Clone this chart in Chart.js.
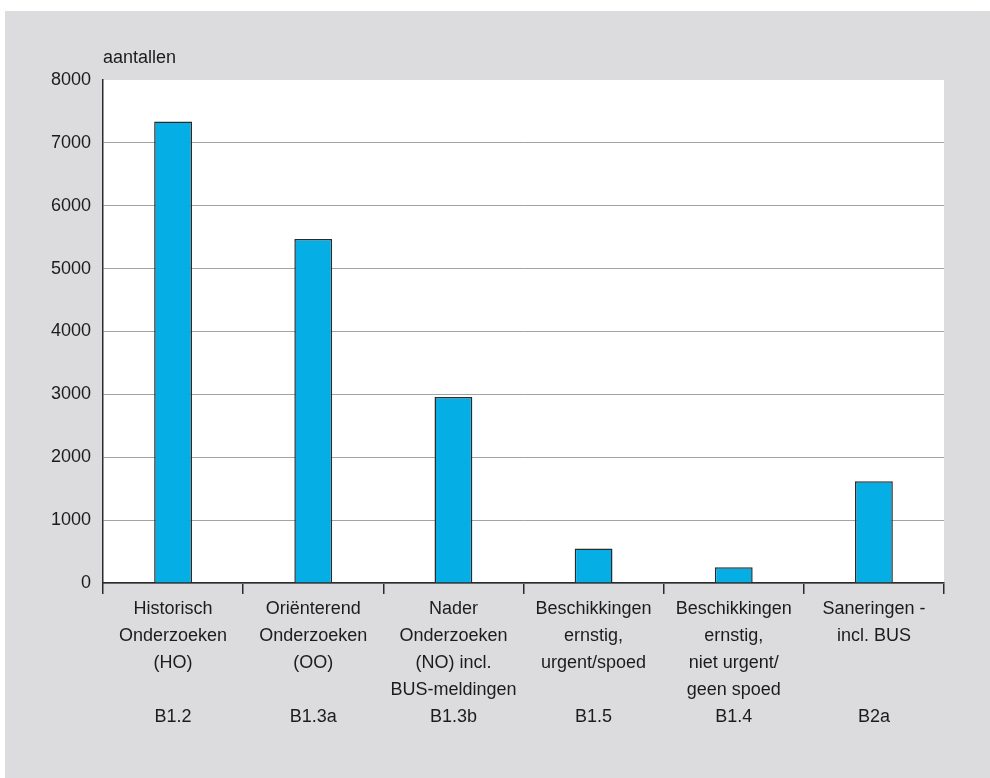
<!DOCTYPE html>
<html>
<head>
<meta charset="utf-8">
<script src="https://cdn.jsdelivr.net/npm/chart.js@4/dist/chart.umd.min.js"></script>
<style>
  html, body { margin: 0; padding: 0; background: #ffffff; }
  #wrap { width: 990px; height: 778px; }
</style>
</head>
<body>
<div id="wrap"><canvas id="bars" width="990" height="778"></canvas></div>
<script>
// category label lines (blank lines keep the codes on one row)
const categoryLines = [
    ['Historisch', 'Onderzoeken', '(HO)', ''],
    ['Oriënterend', 'Onderzoeken', '(OO)', ''],
    ['Nader', 'Onderzoeken', '(NO) incl.', 'BUS-meldingen'],
    ['Beschikkingen', 'ernstig,', 'urgent/spoed', ''],
    ['Beschikkingen', 'ernstig,', 'niet urgent/', 'geen spoed'],
    ['Saneringen -', 'incl. BUS', '', '']
];
const categoryCodes = ['B1.2', 'B1.3a', 'B1.3b', 'B1.5', 'B1.4', 'B2a'];
const aantallen = [7340, 5470, 2960, 550, 250, 1620];
const yTicks = [0, 1000, 2000, 3000, 4000, 5000, 6000, 7000, 8000];
const yTitle = 'aantallen';

const FONT = "'Liberation Sans', Arial, sans-serif";
const TEXT = '#1e1b1c';

const labels = categoryLines.map((lines, i) => lines.concat([categoryCodes[i]]));

// grey panel behind everything, white plot area, and the unit label
const panelPlugin = {
    id: 'panel',
    beforeDraw(chart) {
        const ctx = chart.ctx;
        const a = chart.chartArea;
        ctx.save();
        ctx.fillStyle = '#dcdcde';
        ctx.fillRect(5, 11, 985, 767);
        ctx.fillStyle = '#ffffff';
        ctx.fillRect(a.left, a.top, a.right - a.left, a.bottom - a.top);
        ctx.fillStyle = TEXT;
        ctx.font = '18px ' + FONT;
        ctx.textAlign = 'left';
        ctx.textBaseline = 'middle';
        ctx.fillText(yTitle, a.left, a.top - 22);
        ctx.restore();
    }
};

const ctx = document.getElementById('bars').getContext('2d');
new Chart(ctx, {
    type: 'bar',
    data: {
        labels: labels,
        datasets: [{
            data: aantallen,
            backgroundColor: '#05aee4',
            borderColor: '#2b2b2b',
            borderWidth: 1.5,
            barPercentage: 0.27,
            categoryPercentage: 1
        }]
    },
    options: {
        responsive: false,
        animation: false,
        layout: { padding: { top: 80, right: 46, left: 0, bottom: 0 } },
        plugins: {
            legend: { display: false },
            tooltip: { enabled: false }
        },
        scales: {
            x: {
                afterFit: (scale) => { scale.height = 195; },
                grid: {
                    offset: true,
                    drawOnChartArea: false,
                    drawTicks: true,
                    tickLength: 11,
                    color: '#2b2b2b',
                    lineWidth: 1.5
                },
                border: { color: '#2b2b2b', width: 1.5 },
                ticks: {
                    padding: 2,
                    maxRotation: 0,
                    autoSkip: false,
                    color: TEXT,
                    font: { family: FONT, size: 18, lineHeight: 1.5 }
                }
            },
            y: {
                min: 0,
                max: 8000,
                afterFit: (scale) => { scale.width = 103; },
                afterBuildTicks: (scale) => { scale.ticks = yTicks.map(v => ({ value: v })); },
                grid: {
                    drawTicks: false,
                    color: (c) => (c.tick && c.tick.value === 8000) ? 'rgba(0,0,0,0)' : '#a3a3a3',
                    lineWidth: 1
                },
                border: { color: '#2b2b2b', width: 1.5 },
                ticks: {
                    padding: 12,
                    color: TEXT,
                    font: { family: FONT, size: 18 },
                    callback: (value) => String(value)
                }
            }
        }
    },
    plugins: [panelPlugin]
});
</script>
</body>
</html>
